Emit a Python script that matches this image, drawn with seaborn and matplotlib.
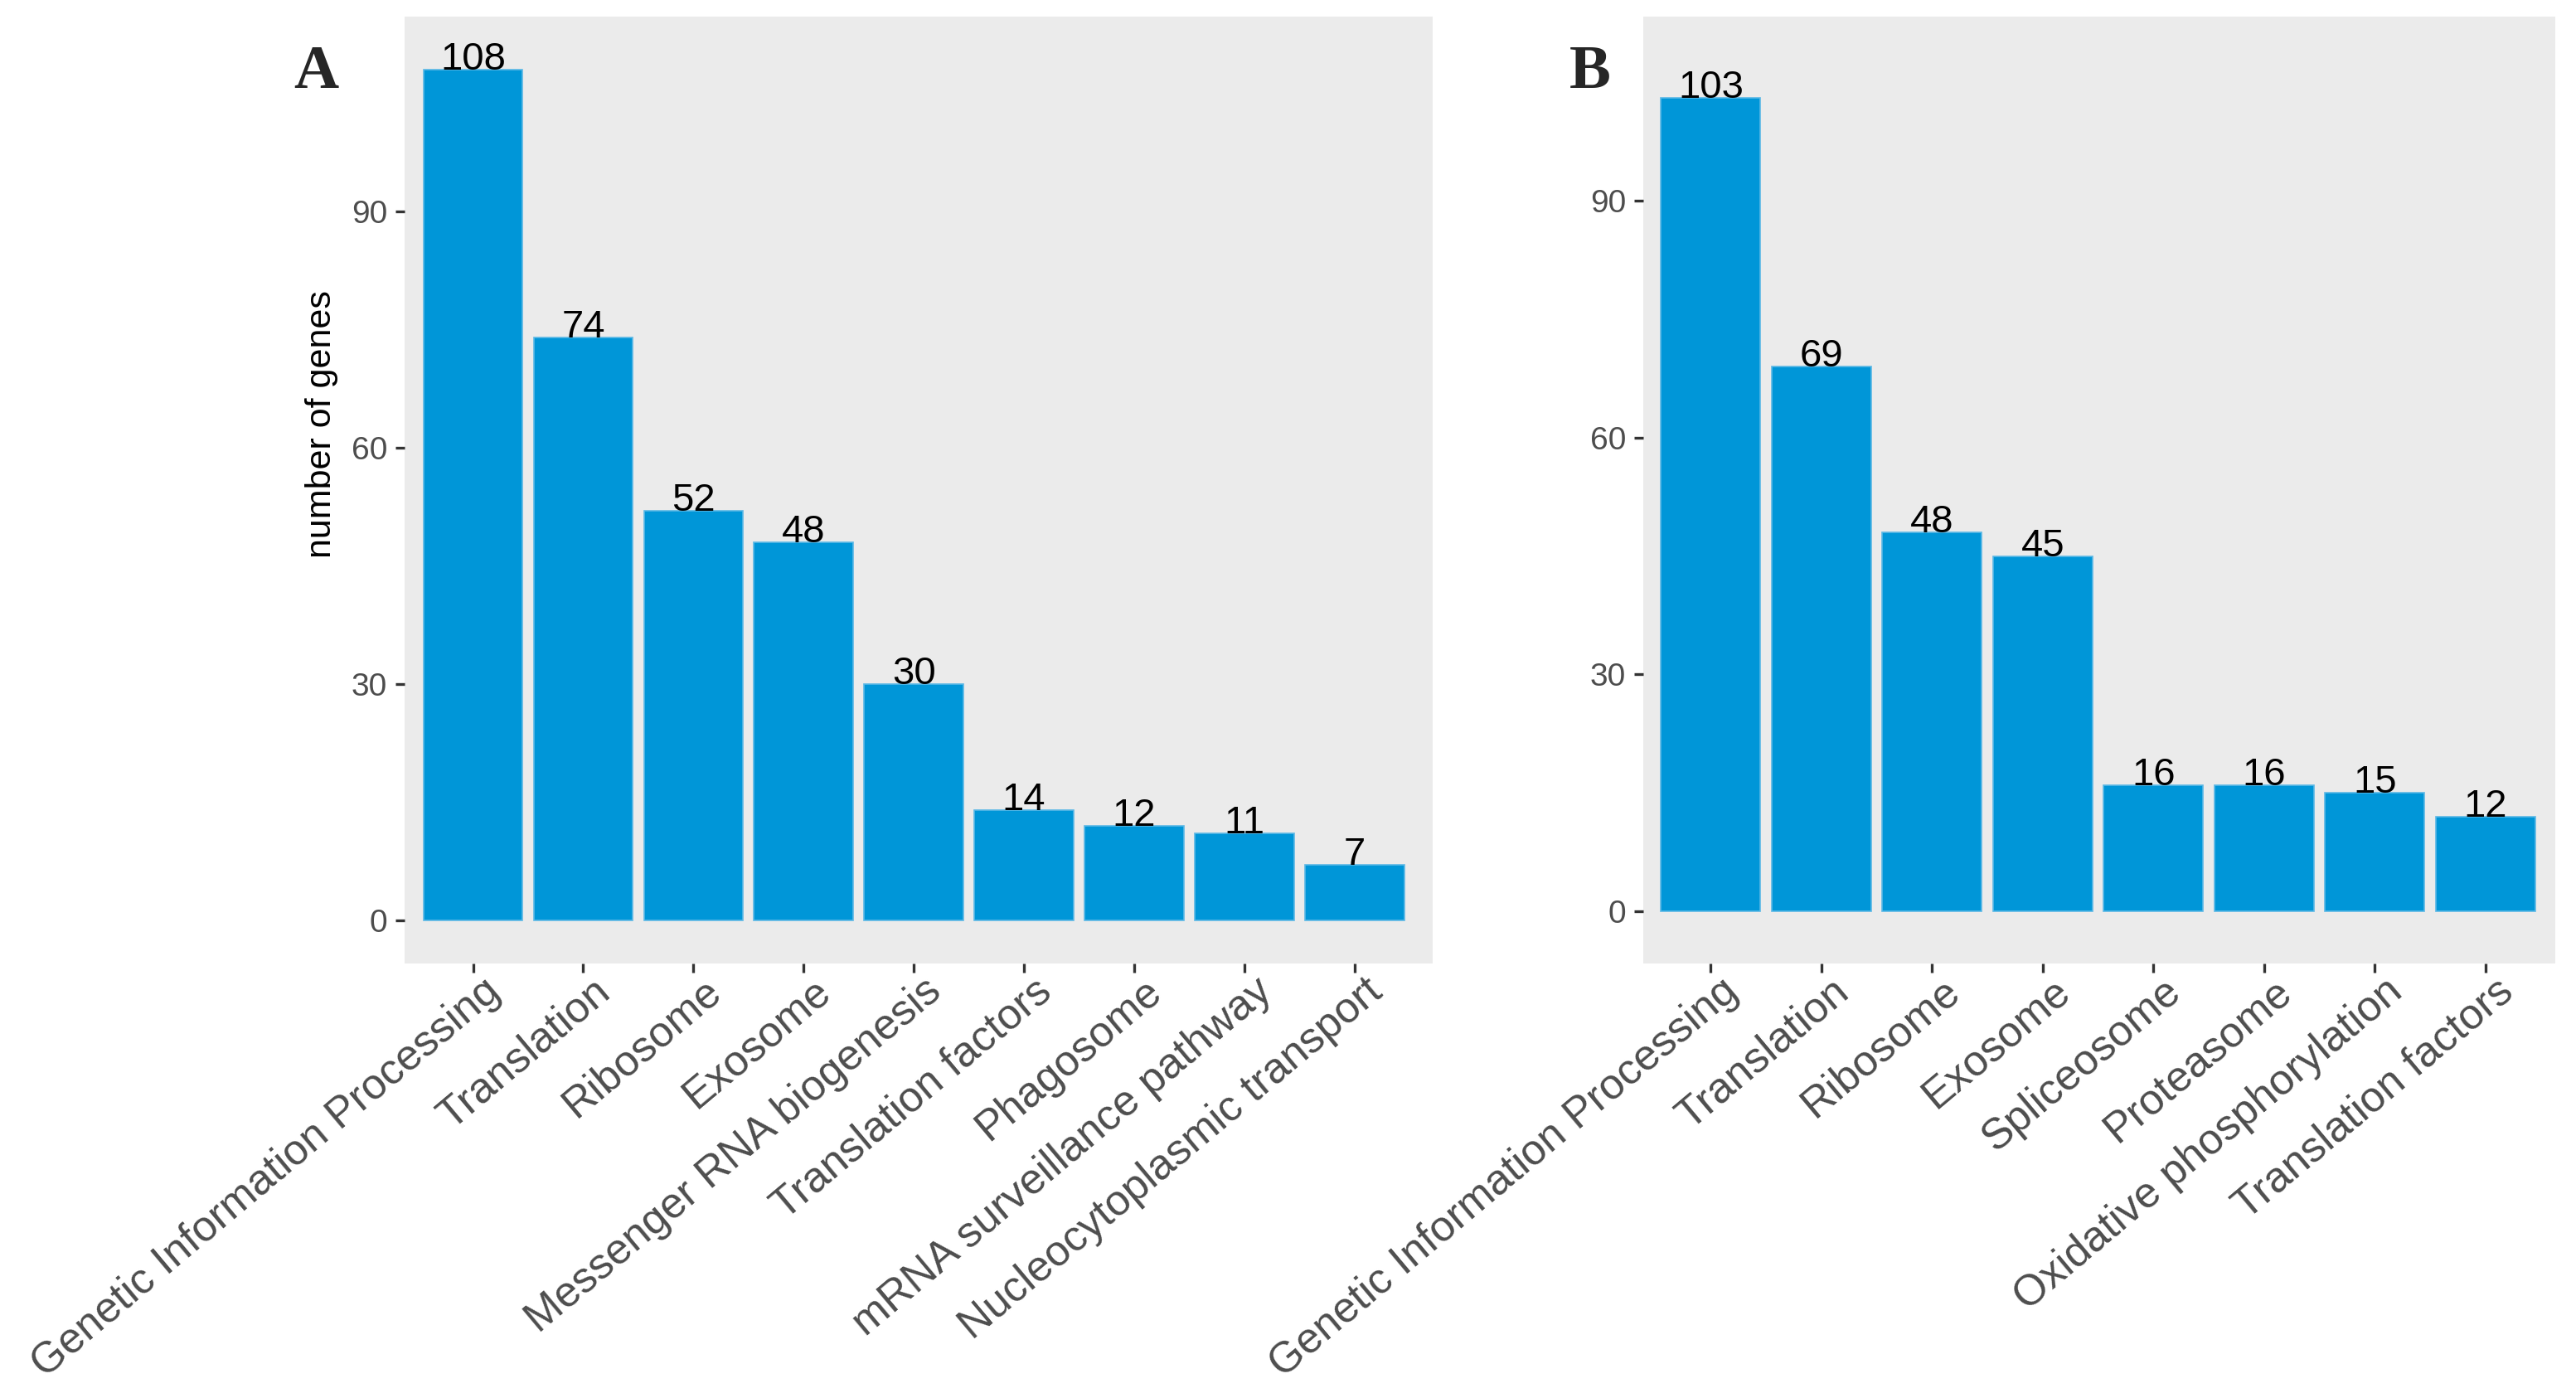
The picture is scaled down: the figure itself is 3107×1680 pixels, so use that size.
import matplotlib
matplotlib.use("Agg")
import matplotlib.pyplot as plt
import matplotlib.transforms as mtransforms
import seaborn as sns
import pandas as pd

# panel A
terms_a = ["Genetic Information Processing", "Translation", "Ribosome", "Exosome",
           "Messenger RNA biogenesis", "Translation factors", "Phagosome",
           "mRNA surveillance pathway", "Nucleocytoplasmic transport"]
genes_a = [108, 74, 52, 48, 30, 14, 12, 11, 7]

# panel B
terms_b = ["Genetic Information Processing", "Translation", "Ribosome", "Exosome",
           "Spliceosome", "Proteasome", "Oxidative phosphorylation", "Translation factors"]
genes_b = [103, 69, 48, 45, 16, 16, 15, 12]

yticks = [0, 30, 60, 90]
bar_color = "#0096D8"

sns.set_theme(style="white")
plt.rcParams["font.family"] = ["Liberation Sans", "DejaVu Sans"]

fig = plt.figure(figsize=(15.535, 8.4), dpi=200)
ax_a = fig.add_axes([0.1571, 0.3083, 0.3991, 0.6798])
ax_b = fig.add_axes([0.6379, 0.3083, 0.3540, 0.6798])

# small nudge of the rotated labels (right / up)
nudge = mtransforms.ScaledTranslation(0.055, 0.035, fig.dpi_scale_trans)


def draw_panel(ax, terms, genes, xlim, ylim, letter, letter_x):
    df = pd.DataFrame({"term": terms, "genes": genes})
    sns.barplot(data=df, x="term", y="genes", ax=ax, color=bar_color,
                saturation=1, width=0.9, edgecolor="#5BB8E6", linewidth=0.6)
    ax.set_facecolor("#EBEBEB")
    for s in ax.spines.values():
        s.set_visible(False)
    ax.set_xlim(*xlim)
    ax.set_ylim(*ylim)
    ax.set_yticks(yticks)
    for i, v in enumerate(genes):
        ax.text(i, v, str(v), ha="center", va="baseline", fontsize=17, color="black")
    ax.tick_params(axis="both", which="both", direction="out", length=4, width=1.2,
                   color="#333333", labelcolor="#4D4D4D", bottom=True, left=True)
    ax.tick_params(axis="y", labelsize=14, pad=3.5)
    ax.set_xticks(range(len(terms)))
    ax.set_xticklabels(terms, rotation=40, ha="right", rotation_mode="anchor",
                       fontsize=18.6, color="#4D4D4D")
    ax.tick_params(axis="x", pad=1.5)
    for lab in ax.get_xticklabels():
        lab.set_transform(lab.get_transform() + nudge)
    ax.set_xlabel("")
    ax.set_ylabel("")
    fig.text(letter_x, 0.968, letter, ha="center", va="top", fontsize=27,
             fontweight="bold", family="Liberation Serif")


draw_panel(ax_a, terms_a, genes_a, (-0.62, 8.71), (-5.5, 114.7), "A", 0.1226)
draw_panel(ax_b, terms_b, genes_b, (-0.61, 7.63), (-6.6, 113.3), "B", 0.6174)

ax_a.set_ylabel("number of genes", fontsize=15.5, color="black")
ax_a.yaxis.set_label_coords(-0.0645, 0.57)

fig.savefig("out.png", dpi=200)
